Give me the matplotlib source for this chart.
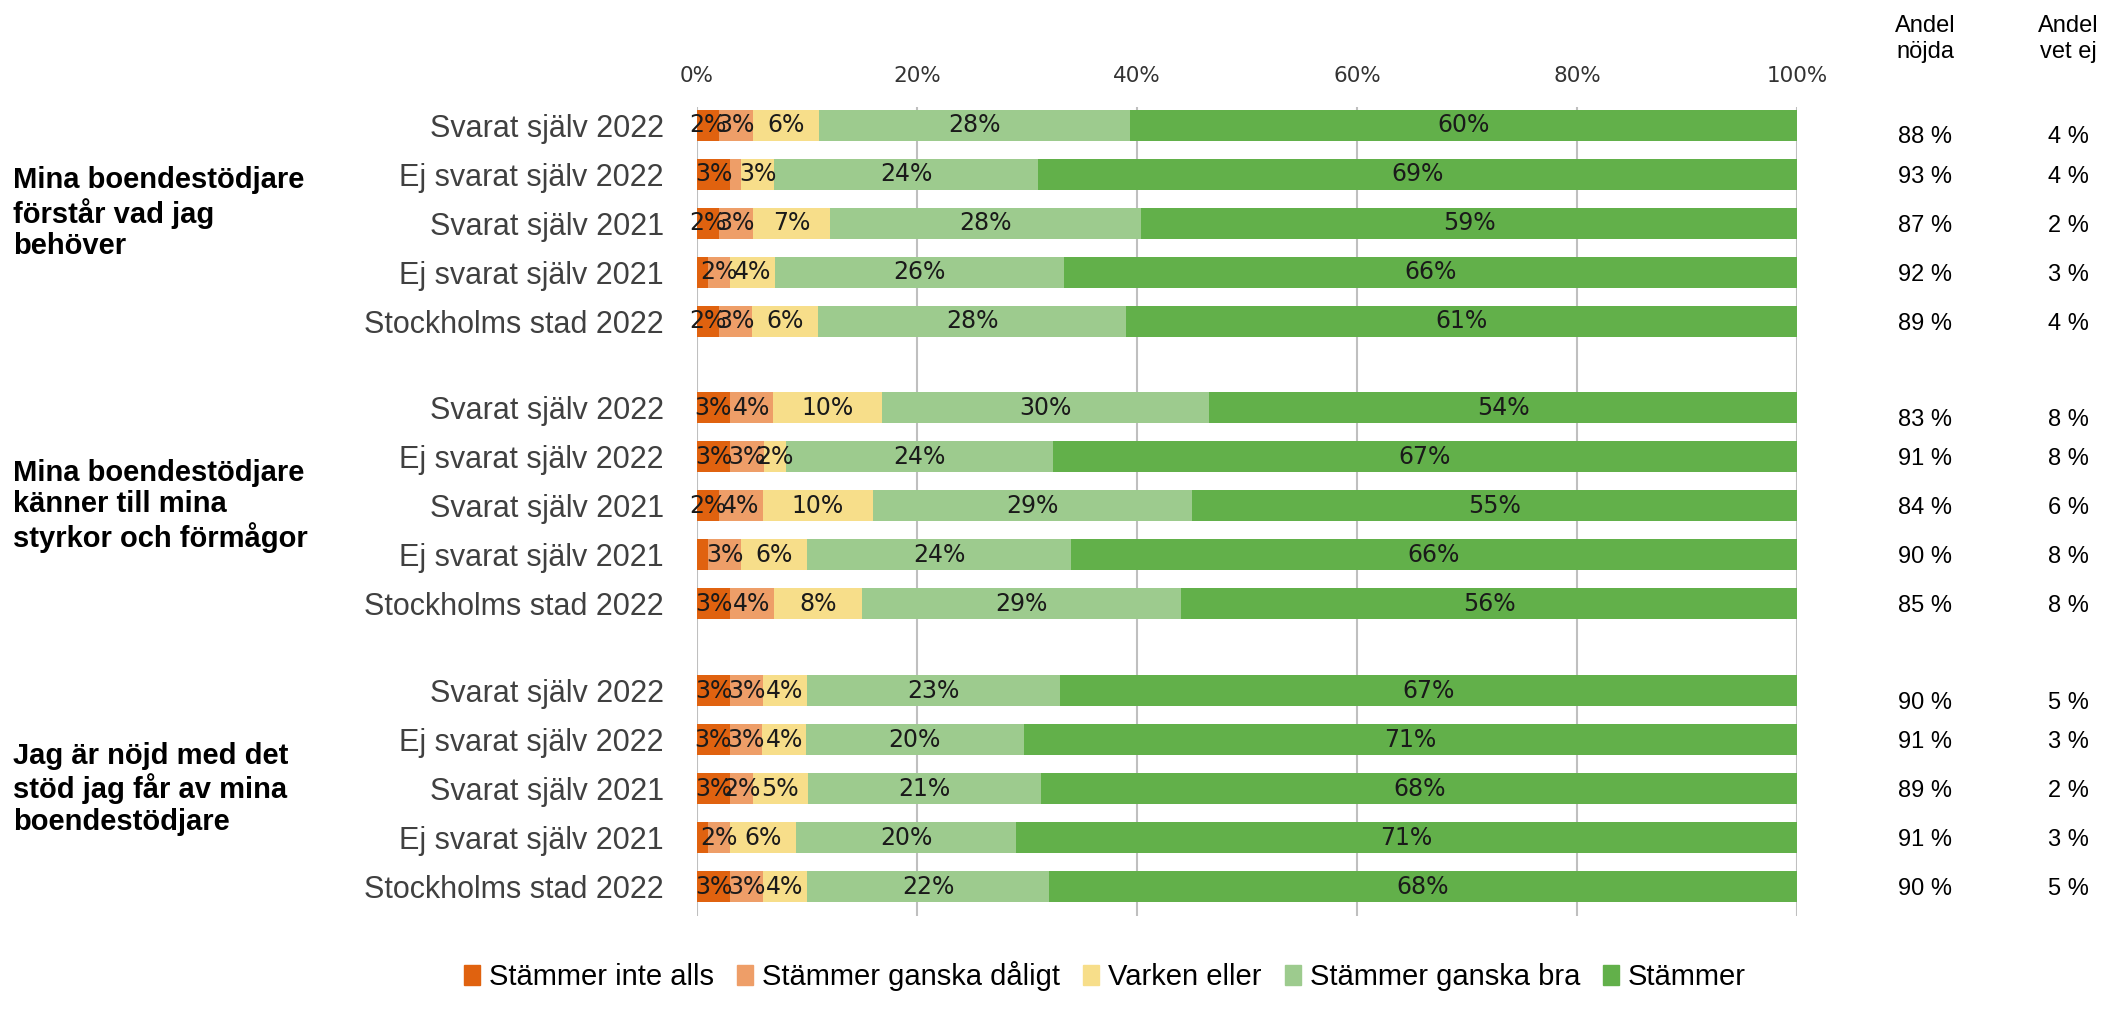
import numpy as np
import matplotlib.pyplot as plt
import matplotlib.transforms as mtransforms
from matplotlib.patches import Patch

# ---- data ----
groups = [
    "Mina boendestödjare\nförstår vad jag\nbehöver",
    "Mina boendestödjare\nkänner till mina\nstyrkor och förmågor",
    "Jag är nöjd med det\nstöd jag får av mina\nboendestödjare",
]
rows = ["Svarat själv 2022", "Ej svarat själv 2022", "Svarat själv 2021",
        "Ej svarat själv 2021", "Stockholms stad 2022"]
series = ["Stämmer inte alls", "Stämmer ganska dåligt", "Varken eller",
          "Stämmer ganska bra", "Stämmer"]

# one row per bar (top to bottom), one column per series
values = np.array([
    [2, 3, 6, 28, 60],
    [3, 1, 3, 24, 69],
    [2, 3, 7, 28, 59],
    [1, 2, 4, 26, 66],
    [2, 3, 6, 28, 61],

    [3, 4, 10, 30, 54],
    [3, 3, 2, 24, 67],
    [2, 4, 10, 29, 55],
    [1, 3, 6, 24, 66],
    [3, 4, 8, 29, 56],

    [3, 3, 4, 23, 67],
    [3, 3, 4, 20, 71],
    [3, 2, 5, 21, 68],
    [1, 2, 6, 20, 71],
    [3, 3, 4, 22, 68],
])

andel_nojda = [88, 93, 87, 92, 89, 83, 91, 84, 90, 85, 90, 91, 89, 91, 90]
andel_vet_ej = [4, 4, 2, 3, 4, 8, 8, 6, 8, 8, 5, 3, 2, 3, 5]

colors = ["#E0620F", "#EE9E68", "#F7DE8A", "#9DCB8E", "#62B04A"]

# ---- layout ----
W, H = 2103, 1010
fig = plt.figure(figsize=(W / 100, H / 100), dpi=100)
ax = fig.add_axes([697 / W, 1 - 916 / H, 1100 / W, 809 / H])

group_step = 5.77
pos = np.array([g * group_step + r for g in range(3) for r in range(5)])
labels = rows * 3

# 100% stacked: normalise every row
share = values / values.sum(axis=1, keepdims=True) * 100
left = np.zeros(len(pos))
for k in range(len(series)):
    ax.barh(pos, share[:, k], left=left, height=0.63, color=colors[k],
            label=series[k], zorder=2)
    for i in range(len(pos)):
        v = values[i, k]
        if v >= 2:
            ax.text(left[i] + share[i, k] / 2, pos[i], f"{v}%", ha="center",
                    va="center", fontsize=17, color="#1a1a1a", zorder=3)
    left += share[:, k]

ax.set_xlim(0, 100)
ax.set_ylim(pos[-1] + 0.6, -0.37)
ax.xaxis.tick_top()
ax.set_xticks(np.arange(0, 101, 20))
ax.set_xticklabels([f"{t}%" for t in range(0, 101, 20)], fontsize=15.5,
                   color="#333333")
ax.tick_params(axis="x", length=0, pad=15)
ax.set_yticks(pos)
ax.set_yticklabels(labels, fontsize=22, family="Liberation Sans",
                   color="#404040")
ax.tick_params(axis="y", length=0, pad=24)
for s in ax.spines.values():
    s.set_visible(False)
ax.grid(axis="x", color="#BFBFBF", lw=1.5, zorder=0)
ax.set_axisbelow(True)

# group titles and the side table
trans = mtransforms.blended_transform_factory(fig.transFigure, ax.transData)
title_rows = [1.8, 2, 2]
for g, title in enumerate(groups):
    fig.text(13 / W, g * group_step + title_rows[g], title, transform=trans,
             ha="left", va="center", fontsize=21, fontweight="bold",
             family="Liberation Sans", linespacing=1.15)

fig.text(1925 / W, 1 - 39 / H, "Andel\nnöjda", ha="center", va="center",
         fontsize=17, family="Liberation Sans", linespacing=1.2)
fig.text(2068 / W, 1 - 39 / H, "Andel\nvet ej", ha="center", va="center",
         fontsize=17, family="Liberation Sans", linespacing=1.2)
for i in range(len(pos)):
    dy = 0.25 if i % 5 == 0 else 0.05
    fig.text(1925 / W, pos[i] + dy, f"{andel_nojda[i]} %", transform=trans,
             ha="center", va="center", fontsize=17, family="Liberation Sans")
    fig.text(2068 / W, pos[i] + dy, f"{andel_vet_ej[i]} %", transform=trans,
             ha="center", va="center", fontsize=17, family="Liberation Sans")

handles = [Patch(color=c) for c in colors]
fig.legend(handles, series, loc="center", bbox_to_anchor=(1105 / W, 1 - 976 / H),
           ncol=5, frameon=False, handlelength=0.55, handleheight=0.7,
           handletextpad=0.3, columnspacing=0.8,
           prop={"family": "Liberation Sans", "size": 21})

fig.savefig("out.png", dpi=100)
